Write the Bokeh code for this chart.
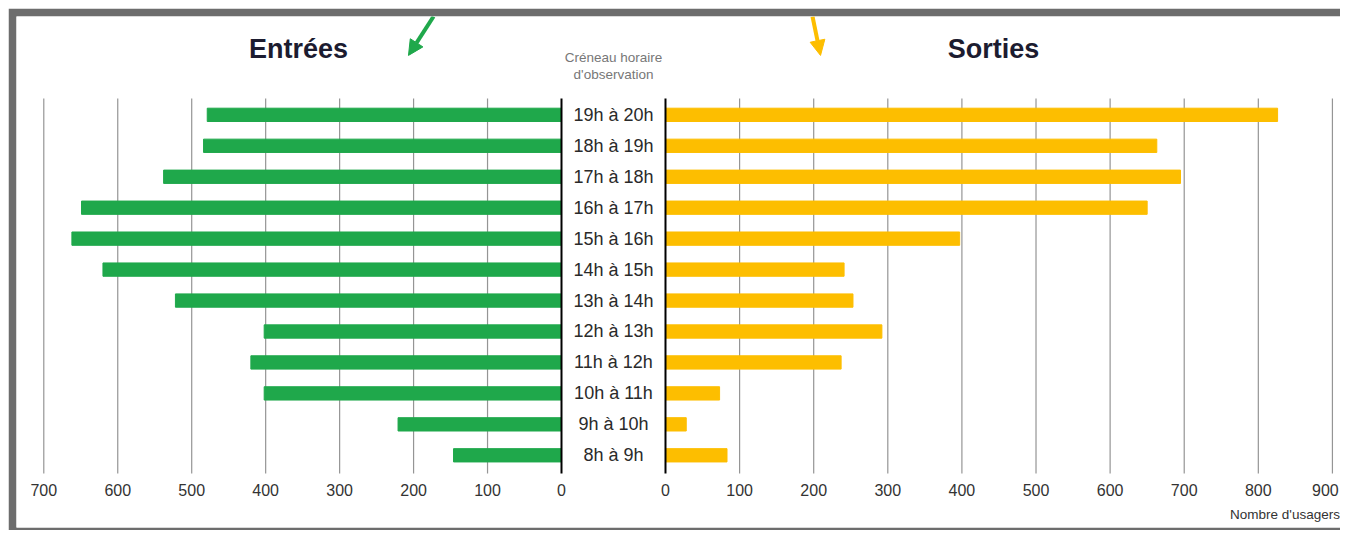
from bokeh.plotting import figure
from bokeh.models import Range1d, Arrow, NormalHead, Spacer
from bokeh.layouts import row, column
from bokeh.embed import file_html
from bokeh.resources import INLINE
from bokeh.core.properties import value

# ---- data ----
creneaux = ["8h à 9h", "9h à 10h", "10h à 11h", "11h à 12h", "12h à 13h", "13h à 14h",
            "14h à 15h", "15h à 16h", "16h à 17h", "17h à 18h", "18h à 19h", "19h à 20h"]
entrees = [146, 221, 402, 420, 402, 522, 620, 662, 649, 538, 484, 479]
sorties = [83, 28, 73, 237, 292, 253, 241, 397, 650, 695, 663, 826]
ticks_entrees = [0, 100, 200, 300, 400, 500, 600, 700]
ticks_sorties = [0, 100, 200, 300, 400, 500, 600, 700, 800, 900]
tick_labels_entrees = [str(t) for t in ticks_entrees]
tick_labels_sorties = [str(t) for t in ticks_sorties]

GREEN = "#1fa84b"
YELLOW = "#fdbe00"
FONT = value("Liberation Sans")

rows = list(range(len(creneaux)))

p = figure(width=1332, height=522, output_backend="svg", toolbar_location=None,
           x_range=Range1d(736.9, -1053.3), y_range=Range1d(-2.333, 14.178),
           x_axis_type=None, y_axis_type=None,
           min_border_left=8, min_border_top=8, min_border_right=0, min_border_bottom=3,
           border_fill_color="#6d6d6d", background_fill_color="white",
           outline_line_color=None)
p.extra_x_ranges = {"sorties": Range1d(-875.8, 910.9)}

g_top, g_bot = 11.53, -0.59

# grid lines
p.segment(x0=ticks_entrees[1:], x1=ticks_entrees[1:], y0=g_bot, y1=g_top,
          line_color="#959595", line_width=1.2)
p.segment(x0=ticks_sorties[1:], x1=ticks_sorties[1:], y0=g_bot, y1=g_top,
          line_color="#959595", line_width=1.2, x_range_name="sorties")

# bars
p.hbar(y=rows, left=0, right=entrees, height=0.43, color=GREEN)
p.hbar(y=rows, left=0, right=sorties, height=0.43, color=YELLOW, x_range_name="sorties")

# zero lines
p.segment(x0=[0], x1=[0], y0=g_bot, y1=g_top, line_color="black", line_width=2)
p.segment(x0=[0], x1=[0], y0=g_bot, y1=g_top, line_color="black", line_width=2,
          x_range_name="sorties")

# tick labels
p.text(x=ticks_entrees, y=-1.137, text=tick_labels_entrees, text_align="center",
       text_baseline="middle", text_font=FONT, text_font_size="16px", text_color="#333333")
# keep the last label inside the page edge
sortie_offsets = [0] * (len(ticks_sorties) - 1) + [-7]
p.text(x=ticks_sorties, y=-1.137, text=tick_labels_sorties, x_offset=sortie_offsets,
       text_align="center", text_baseline="middle", text_font=FONT,
       text_font_size="16px", text_color="#333333", x_range_name="sorties")

# row labels (centre column)
mid_x = -70.3
p.text(x=mid_x, y=rows, text=creneaux, text_align="center", text_baseline="middle",
       text_font=FONT, text_font_size="18px", text_color="#2a2a2a")
p.text(x=mid_x, y=[12.85, 12.30], text=["Créneau horaire", "d'observation"],
       text_align="center", text_baseline="middle", text_font=FONT,
       text_font_size="13.5px", text_color="#777777")

# titles
p.text(x=[355.6], y=[13.14], text=["Entrées"], text_align="center", text_baseline="middle",
       text_font=FONT, text_font_size="27px", text_font_style="bold", text_color="#1c1c30")
p.text(x=[442.6], y=[13.14], text=["Sorties"], text_align="center", text_baseline="middle",
       text_font=FONT, text_font_size="27px", text_font_style="bold", text_color="#1c1c30",
       x_range_name="sorties")

# axis title
p.text(x=[836], y=[-1.913], text=["Nombre d'usagers"], text_align="center",
       text_baseline="middle", text_font=FONT, text_font_size="13.5px", text_color="#333333",
       x_range_name="sorties")

# arrows
p.add_layout(Arrow(x_start=173, y_start=14.178, x_end=206.9, y_end=12.92,
                   line_color=GREEN, line_width=4,
                   end=NormalHead(size=15, fill_color=GREEN, line_color=GREEN)))
p.add_layout(Arrow(x_start=198.4, y_start=14.178, x_end=209.2, y_end=12.92,
                   line_color=YELLOW, line_width=4, x_range_name="sorties",
                   end=NormalHead(size=15, fill_color=YELLOW, line_color=YELLOW)))

layout = column(Spacer(width=1340, height=8),
                row(Spacer(width=8, height=522), p))

open("out.html", "w").write(file_html(layout, INLINE))
